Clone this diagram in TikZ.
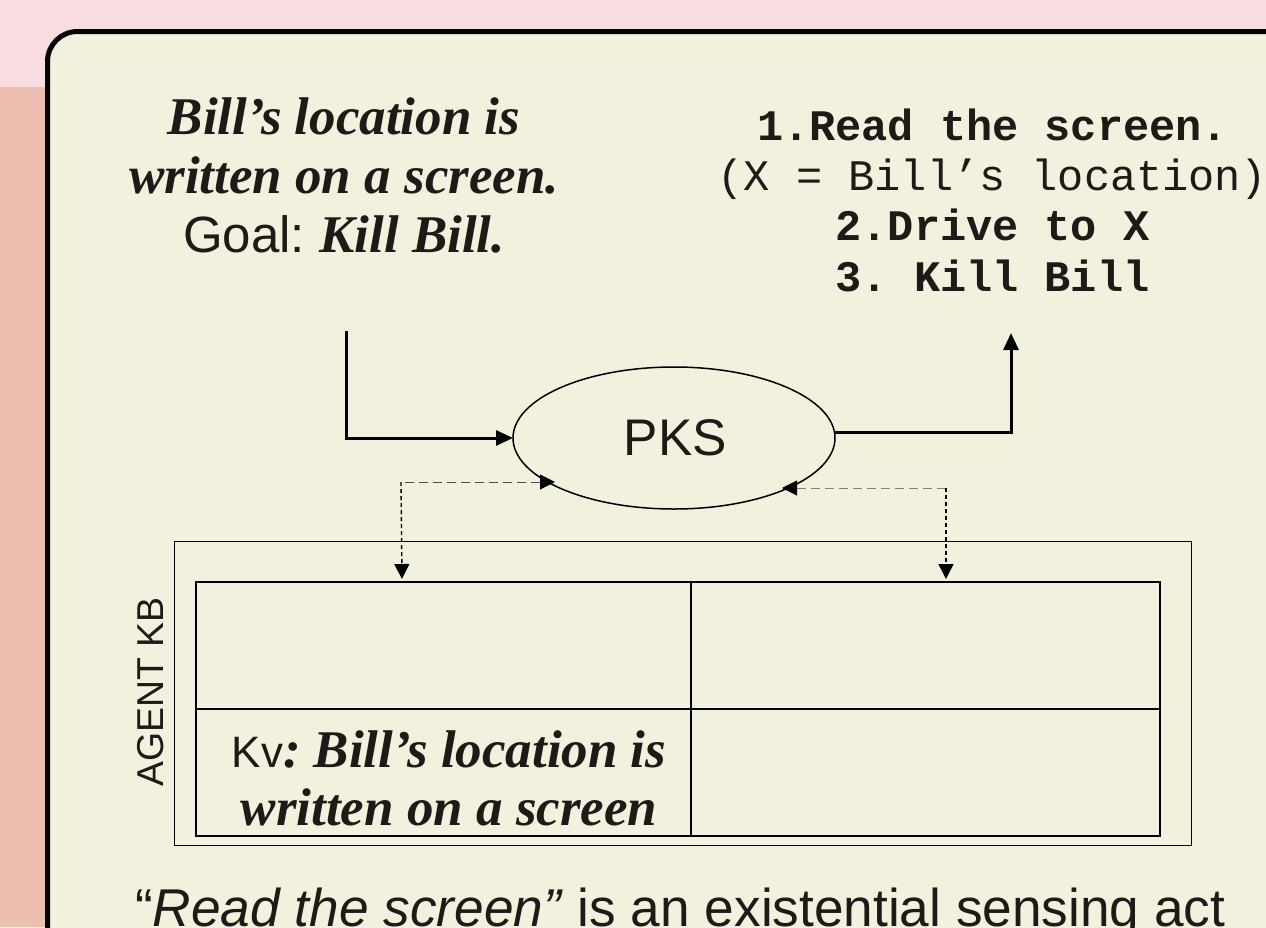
\documentclass[tikz,border=0pt]{standalone}
\usepackage{fontspec}
\setmainfont{Liberation Sans}
\newfontfamily\tms{Liberation Serif}
\newfontfamily\crr{Liberation Mono}
\usetikzlibrary{arrows.meta,shapes.geometric,calc}
\definecolor{pinkbg}{HTML}{F7DDE0}
\definecolor{salmonbg}{HTML}{EDBFB0}
\definecolor{creambg}{HTML}{F2F1DE}
\definecolor{ink}{HTML}{1D1A17}
\newcommand{\bi}[1]{{\tms\bfseries\itshape\fontsize{53}{59}\selectfont #1}}
\tikzset{
  x=1pt,y=-1pt,
  flow/.style={line width=3pt,draw=black,-{Triangle[length=17pt,width=15pt]}},
  hlink/.style={line width=1pt,dash pattern=on 9pt off 5pt},
  vlink/.style={line width=1.4pt,draw=black,dash pattern=on 4pt off 3pt},
  tipS/.style={-{Triangle[length=15pt,width=15pt]}},
  tipE/.style={{Triangle[length=15pt,width=15pt,black]}-},
  cell/.style={draw=black,line width=2pt,inner sep=0pt,outer sep=0pt,minimum height=127pt,text=ink},
  lbl/.style={text=ink,inner sep=0pt,align=center},
}
\begin{document}
\frenchspacing
\begin{tikzpicture}
\useasboundingbox (0,0) rectangle (1266,927);
\clip (0,0) rectangle (1266,927);
\fill[pinkbg] (0,0) rectangle (1266,927);
\fill[salmonbg] (0,87) rectangle (1266,927);
\draw[line width=5pt,draw=black,fill=creambg,rounded corners=30pt] (47.5,31.5) rectangle (1400,1100);

\node[lbl,font=\fontsize{51}{59}\selectfont] (goal) at (344,175.5)
  {\bi{Bill’s location is}\\ \bi{written on a screen.}\\ Goal: \bi{Kill Bill.}};
\node[lbl,font=\crr\fontsize{43.6}{50.3}\selectfont] (plan) at (992.5,200)
  {\textbf{1.Read the screen.}\\ (X = Bill’s location)\\ \textbf{2.Drive to X}\\ \textbf{3. Kill Bill}};

\node[draw=black,line width=1.5pt,ellipse,minimum width=322pt,minimum height=142pt,inner sep=0pt,outer sep=0pt,text=ink,font=\fontsize{51.5}{60}\selectfont] (pks) at (674,438) {\hspace*{3pt}PKS};

\node[draw=black,line width=1pt,minimum width=1017pt,minimum height=304pt,inner sep=0pt,outer sep=0pt] (kb) at (682.5,693) {};
\node[cell,minimum width=495pt] (c11) at (443.5,645.5) {};
\node[cell,minimum width=469pt] (c12) at (925.5,645.5) {};
\node[cell,minimum width=495pt] (c21) at (443.5,772.5) {};
\node[cell,minimum width=469pt] (c22) at (925.5,772.5) {};
\node[lbl,font=\fontsize{44}{58}\selectfont] (kv) at (449,778)
  {Kv\bi{: Bill’s location is}\\ \bi{written on a screen}};

\node[lbl,rotate=90,font=\fontsize{37.4}{44}\selectfont] (agent) at (151,692) {AGENT KB};
\node[lbl,anchor=base west,font=\fontsize{53.2}{59}\selectfont] (note) at (135,926)
  {“\textit{Read the screen”} is an existential sensing act};

\coordinate (inStart) at (346,331);
\coordinate (outEnd) at (1011,333);
\coordinate (outStart) at (835,432);
\coordinate (lTip) at (555,482);
\coordinate (rTip) at (782,488);
\coordinate (lCorner) at (401,482);
\coordinate (rCorner) at (946,488);
\coordinate (lEnd) at (402,579);
\coordinate (rEnd) at (946,579);

\draw[flow] (inStart) |- (pks.west);
\draw[flow] (outStart) -| (outEnd);
\draw[hlink,draw=black!70,tipE] (lTip) -- (lCorner);
\draw[vlink,tipS] (lCorner) -- (lEnd);
\draw[hlink,draw=black!50,tipE] (rTip) -- (rCorner);
\draw[vlink,tipS] (rCorner) -- (rEnd);
\end{tikzpicture}
\end{document}
